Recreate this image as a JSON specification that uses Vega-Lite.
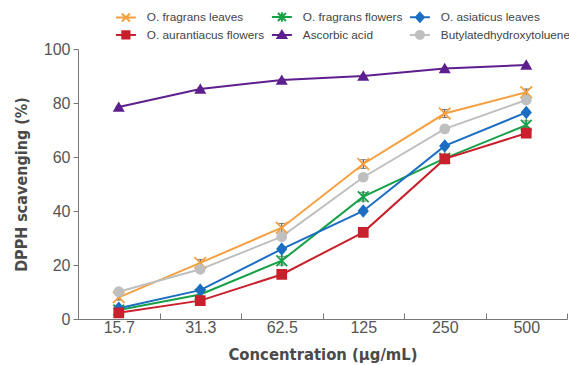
{
  "$schema": "https://vega.github.io/schema/vega-lite/v6.json",
  "width": 489,
  "height": 270,
  "autosize": "none",
  "padding": {"left": 78, "top": 49, "right": 2, "bottom": 46},
  "background": "white",
  "config": {"view": {"stroke": null}, "font": "Liberation Sans"},
  "resolve": {"scale": {"color": "independent", "stroke": "independent", "shape": "independent"}},
  "data": {"values": [
    {"series": "O. fragrans leaves", "conc": "15.7", "v": 8.0, "sd": 1.0},
    {"series": "O. fragrans leaves", "conc": "31.3", "v": 20.8, "sd": 1.2},
    {"series": "O. fragrans leaves", "conc": "62.5", "v": 33.8, "sd": 1.6},
    {"series": "O. fragrans leaves", "conc": "125", "v": 57.4, "sd": 1.6},
    {"series": "O. fragrans leaves", "conc": "250", "v": 76.1, "sd": 1.5},
    {"series": "O. fragrans leaves", "conc": "500", "v": 84.0, "sd": 1.2},
    {"series": "O. fragrans flowers", "conc": "15.7", "v": 3.3, "sd": 0.6},
    {"series": "O. fragrans flowers", "conc": "31.3", "v": 9.1, "sd": 0.8},
    {"series": "O. fragrans flowers", "conc": "62.5", "v": 21.6, "sd": 1.6},
    {"series": "O. fragrans flowers", "conc": "125", "v": 45.3, "sd": 1.6},
    {"series": "O. fragrans flowers", "conc": "250", "v": 59.5, "sd": 1.0},
    {"series": "O. fragrans flowers", "conc": "500", "v": 71.8, "sd": 1.6},
    {"series": "O. asiaticus leaves", "conc": "15.7", "v": 4.0, "sd": 1.0},
    {"series": "O. asiaticus leaves", "conc": "31.3", "v": 10.7, "sd": 0.6},
    {"series": "O. asiaticus leaves", "conc": "62.5", "v": 25.9, "sd": 1.0},
    {"series": "O. asiaticus leaves", "conc": "125", "v": 40.0, "sd": 0.6},
    {"series": "O. asiaticus leaves", "conc": "250", "v": 64.1, "sd": 0.8},
    {"series": "O. asiaticus leaves", "conc": "500", "v": 76.5, "sd": 0.6},
    {"series": "O. aurantiacus flowers", "conc": "15.7", "v": 2.3, "sd": 0.6},
    {"series": "O. aurantiacus flowers", "conc": "31.3", "v": 6.8, "sd": 0.8},
    {"series": "O. aurantiacus flowers", "conc": "62.5", "v": 16.5, "sd": 1.2},
    {"series": "O. aurantiacus flowers", "conc": "125", "v": 32.1, "sd": 0.6},
    {"series": "O. aurantiacus flowers", "conc": "250", "v": 59.3, "sd": 1.0},
    {"series": "O. aurantiacus flowers", "conc": "500", "v": 68.8, "sd": 1.6},
    {"series": "Ascorbic acid", "conc": "15.7", "v": 78.5, "sd": 0.4},
    {"series": "Ascorbic acid", "conc": "31.3", "v": 85.2, "sd": 0.4},
    {"series": "Ascorbic acid", "conc": "62.5", "v": 88.5, "sd": 0.4},
    {"series": "Ascorbic acid", "conc": "125", "v": 90.0, "sd": 0.4},
    {"series": "Ascorbic acid", "conc": "250", "v": 92.8, "sd": 0.4},
    {"series": "Ascorbic acid", "conc": "500", "v": 94.1, "sd": 0.4},
    {"series": "Butylatedhydroxytoluene", "conc": "15.7", "v": 10.1, "sd": 0.5},
    {"series": "Butylatedhydroxytoluene", "conc": "31.3", "v": 18.4, "sd": 0.5},
    {"series": "Butylatedhydroxytoluene", "conc": "62.5", "v": 30.5, "sd": 0.5},
    {"series": "Butylatedhydroxytoluene", "conc": "125", "v": 52.5, "sd": 0.5},
    {"series": "Butylatedhydroxytoluene", "conc": "250", "v": 70.4, "sd": 0.5},
    {"series": "Butylatedhydroxytoluene", "conc": "500", "v": 81.1, "sd": 0.5}
  ]},
  "encoding": {
    "x": {
      "field": "conc", "type": "ordinal",
      "sort": ["15.7", "31.3", "62.5", "125", "250", "500"],
      "scale": {"type": "band", "paddingInner": 0, "paddingOuter": 0},
      "axis": {
        "title": "Concentration (μg/mL)",
        "titleFont": "DejaVu Sans Condensed", "titleFontSize": 16.5, "titleFontWeight": "bold", "titleColor": "#4a4a4a",
        "titlePadding": 11,
        "labelAngle": 0, "labelFontSize": 16, "labelColor": "#555555", "labelPadding": 6,
        "tickBand": "extent", "tickSize": -6, "tickColor": "#777777", "domainColor": "#777777",
        "grid": false
      }
    },
    "y": {
      "field": "v", "type": "quantitative",
      "scale": {"domain": [0, 100], "nice": false},
      "axis": {
        "title": "DPPH scavenging (%)",
        "titleFont": "DejaVu Sans Condensed", "titleFontSize": 16, "titleFontWeight": "bold", "titleColor": "#4a4a4a",
        "titlePadding": 14,
        "values": [0, 20, 40, 60, 80, 100],
        "labelFontSize": 16, "labelColor": "#555555", "labelPadding": 3,
        "tickSize": 5, "tickColor": "#777777", "domainColor": "#777777",
        "grid": false
      }
    }
  },
  "layer": [
    {
      "mark": {"type": "line", "strokeWidth": 2},
      "encoding": {
        "color": {
          "field": "series", "type": "nominal",
          "scale": {
            "domain": ["O. fragrans leaves", "O. fragrans flowers", "O. asiaticus leaves", "O. aurantiacus flowers", "Ascorbic acid", "Butylatedhydroxytoluene"],
            "range": ["#F5A040", "#17A048", "#1B6EC2", "#C8202C", "#5E1F8E", "#BFBFBF"]
          },
          "legend": null
        }
      }
    },
    {
      "mark": {"type": "errorbar", "ticks": {"size": 6}, "color": "#444444", "thickness": 1},
      "encoding": {
        "y": {"field": "v", "type": "quantitative"},
        "yError": {"field": "sd"}
      }
    },
    {
      "mark": {"type": "point", "filled": true, "size": 80, "opacity": 1, "strokeWidth": 1.8},
      "encoding": {
        "color": {
          "field": "series", "type": "nominal",
          "scale": {
            "domain": ["O. fragrans leaves", "O. fragrans flowers", "O. asiaticus leaves", "O. aurantiacus flowers", "Ascorbic acid", "Butylatedhydroxytoluene"],
            "range": ["#F5A040", "#17A048", "#1B6EC2", "#C8202C", "#5E1F8E", "#BFBFBF"]
          },
          "legend": null
        },
        "stroke": {
          "field": "series", "type": "nominal",
          "scale": {
            "domain": ["O. fragrans leaves", "O. fragrans flowers", "O. asiaticus leaves", "O. aurantiacus flowers", "Ascorbic acid", "Butylatedhydroxytoluene"],
            "range": ["#F5A040", "#17A048", "#1B6EC2", "#C8202C", "#5E1F8E", "#BFBFBF"]
          },
          "legend": null
        },
        "shape": {
          "field": "series", "type": "nominal",
          "scale": {
            "domain": ["O. fragrans leaves", "O. fragrans flowers", "O. asiaticus leaves", "O. aurantiacus flowers", "Ascorbic acid", "Butylatedhydroxytoluene"],
            "range": ["M-1.3,-1.3L1.3,1.3M-1.3,1.3L1.3,-1.3", "M-1.2,-1.2L1.2,1.2M-1.2,1.2L1.2,-1.2M0,-1.3L0,1.3", "M0,-1.2L1,0L0,1.2L-1,0Z", "square", "triangle-up", "circle"]
          },
          "legend": null
        }
      }
    },
    {
      "transform": [{"filter": "datum.v < 0"}],
      "mark": {"type": "point", "filled": true, "size": 64},
      "encoding": {
        "color": {
          "field": "series", "type": "nominal",
          "scale": {
            "domain": ["O. fragrans leaves", "O. fragrans flowers", "O. asiaticus leaves", "O. aurantiacus flowers", "Ascorbic acid", "Butylatedhydroxytoluene"],
            "range": ["#F5A040", "#17A048", "#1B6EC2", "#C8202C", "#5E1F8E", "#BFBFBF"]
          },
          "legend": {
            "title": null, "orient": "none", "legendX": 42, "legendY": -38,
            "columns": 3, "direction": "horizontal",
            "labelFontSize": 11.8, "labelColor": "#444444", "labelOffset": 15,
            "columnPadding": 2, "rowPadding": 0, "symbolSize": 64, "symbolStrokeWidth": 2, "symbolOpacity": 1
          }
        },
        "stroke": {
          "field": "series", "type": "nominal",
          "scale": {
            "domain": ["O. fragrans leaves", "O. fragrans flowers", "O. asiaticus leaves", "O. aurantiacus flowers", "Ascorbic acid", "Butylatedhydroxytoluene"],
            "range": ["#F5A040", "#17A048", "#1B6EC2", "#C8202C", "#5E1F8E", "#BFBFBF"]
          },
          "legend": {
            "title": null, "orient": "none", "legendX": 42, "legendY": -38,
            "columns": 3, "direction": "horizontal",
            "labelFontSize": 11.8, "labelColor": "#444444", "labelOffset": 15,
            "columnPadding": 2, "rowPadding": 0, "symbolSize": 64, "symbolStrokeWidth": 2, "symbolOpacity": 1
          }
        },
        "shape": {
          "field": "series", "type": "nominal",
          "scale": {
            "domain": ["O. fragrans leaves", "O. fragrans flowers", "O. asiaticus leaves", "O. aurantiacus flowers", "Ascorbic acid", "Butylatedhydroxytoluene"],
            "range": [
              "M-2.5,0L2.5,0M-1,-1L1,1M-1,1L1,-1",
              "M-2.5,0L2.5,0M-1,-1L1,1M-1,1L1,-1M0,-1.2L0,1.2",
              "M-2.5,0L2.5,0M0,-1.1L1,0L0,1.1L-1,0Z",
              "M-2.5,0L2.5,0M-0.9,-0.9L0.9,-0.9L0.9,0.9L-0.9,0.9Z",
              "M-2.5,0L2.5,0M0,-1L1.1,0.8L-1.1,0.8Z",
              "M-2.5,0L2.5,0M1,0A1,1,0,1,1,-1,0A1,1,0,1,1,1,0Z"
            ]
          },
          "legend": {
            "title": null, "orient": "none", "legendX": 42, "legendY": -38,
            "columns": 3, "direction": "horizontal",
            "labelFontSize": 11.8, "labelColor": "#444444", "labelOffset": 15,
            "columnPadding": 2, "rowPadding": 0, "symbolSize": 64, "symbolStrokeWidth": 2, "symbolOpacity": 1
          }
        }
      }
    }
  ]
}
